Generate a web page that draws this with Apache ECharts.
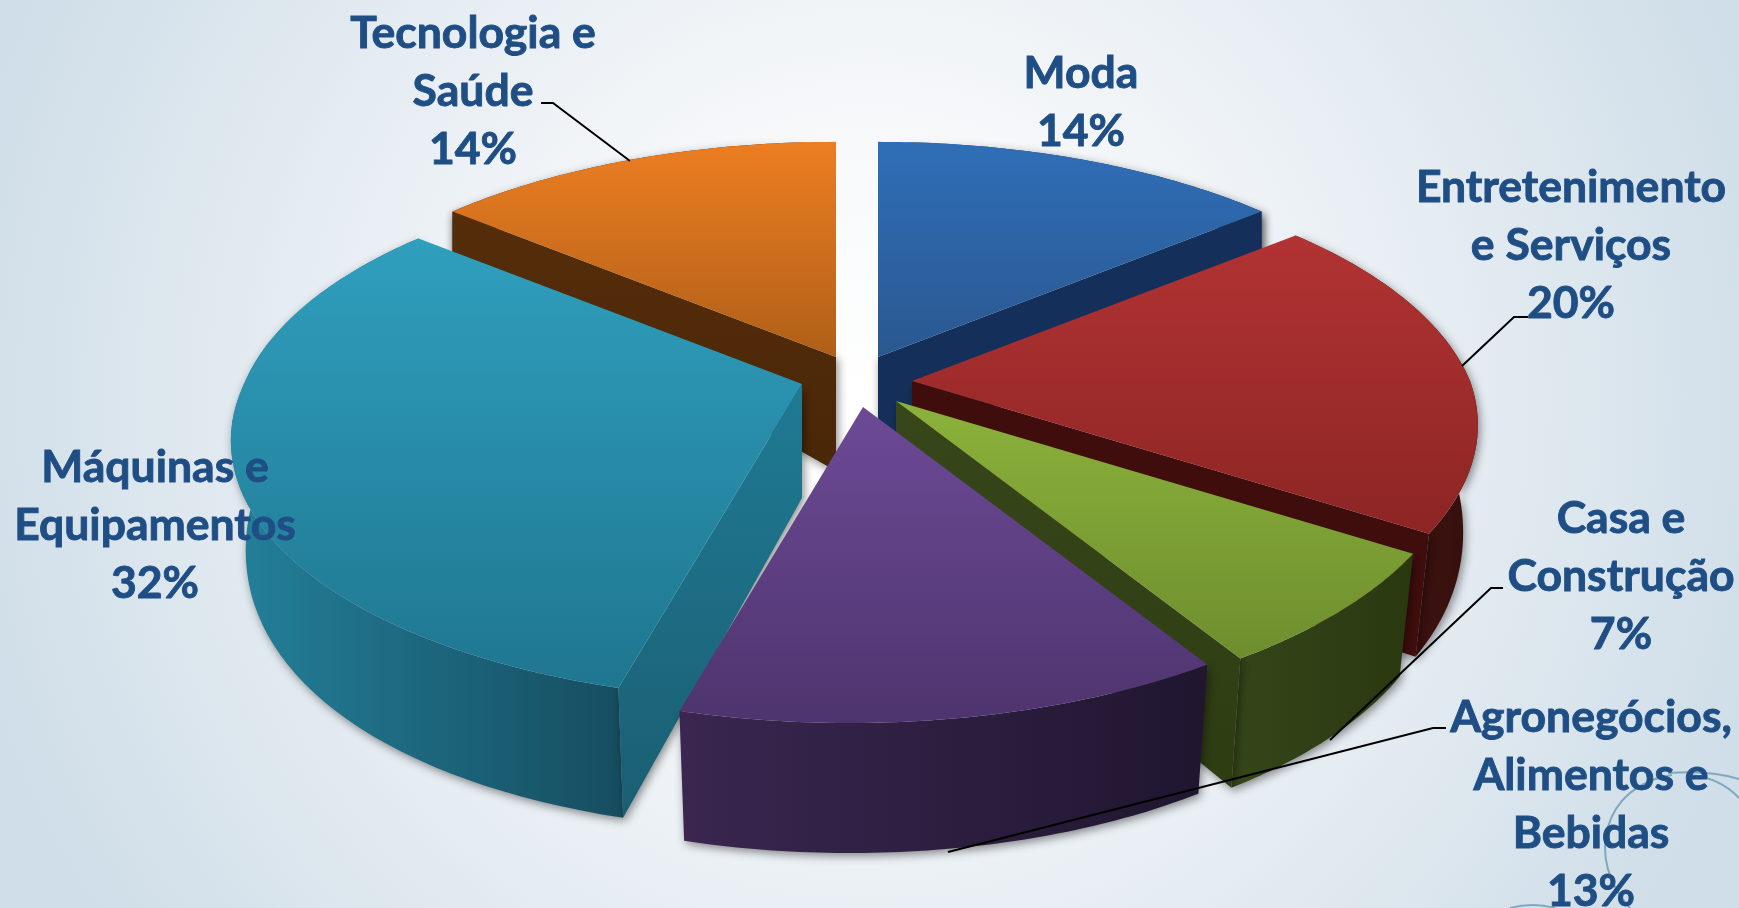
<!DOCTYPE html>
<html>
<head>
<meta charset="utf-8" />
<title>Setores</title>
<script src="https://cdnjs.cloudflare.com/ajax/libs/echarts/6.0.0/echarts.min.js"></script>
<style>html,body{margin:0;height:100%;background:#fff}#main{width:1739px;height:908px}</style>
</head>
<body>
<div id="main"></div>
<script>
// dados
var categorias = ['Moda', 'Entretenimento\ne Serviços', 'Casa e\nConstrução', 'Agronegócios,\nAlimentos e\nBebidas', 'Máquinas e\nEquipamentos', 'Tecnologia e\nSaúde'];
var valores = [14, 20, 7, 13, 32, 14];

// aparência de cada fatia, na mesma ordem
var coresTopo = [['#2f6eb7', '#2a5890'], ['#b23333', '#8c2524'], ['#8cb23b', '#6e8e2e'], ['#6c4a96', '#4e346e'], ['#2f9fbe', '#1f7690'], ['#ec7e22', '#b05f18']];
var coresCorte = [['#14305a', '#14305a'], ['#3f0d0c', '#3f0d0c'], ['#37471a', '#2e3c12'], ['#2a1c3e', '#2a1c3e'], ['#1f7a94', '#1b5e72'], ['#552d0a', '#4a2708']];
var coresLado = [['#1a3a66', '#14305a'], ['#4a1412', '#35100e'], ['#35461a', '#2a3810'], ['#3a2650', '#201630'], ['#23809a', '#164d60'], ['#5a300c', '#4a2708']];
var centros = [[878, 357], [912, 381], [896, 401], [863, 407], [802, 384], [836, 357]];
var ordemDesenho = [0, 5, 1, 4, 2, 3];
var posTextos = [[1081, 102.5], [1571, 245.5], [1621, 576.5], [1591, 804.5], [155, 525.5], [473, 91.5]];
var guias = [
  null,
  [[1528, 317], [1514, 317], [1462, 366]],
  [[1503, 588], [1491, 588], [1330, 740]],
  [[1446, 728], [1433, 728], [948, 852]],
  null,
  [[541, 103], [553, 103], [630, 161]]
];

// projeção do disco em perspectiva
var RX = 558, RY = 256, K = 0.19, ALTURA = 130, DESVIO = 14, ENCOLHE = 0.026;
var total = valores.reduce(function (a, b) { return a + b; }, 0);

function borda(i, ang) {
  var u = Math.sin(ang), v = -Math.cos(ang), w = 1 - K * v;
  return [centros[i][0] + RX * u / w - DESVIO * Math.max(v, 0), centros[i][1] + RY * v / w, v];
}
function embaixo(i, p, v) {
  var h = ALTURA * (1 - 0.25 * (1 - v) * (1 - v));
  var enc = 1 - ENCOLHE * Math.max(0, Math.min(1, (v + 0.6) / 0.6));
  return [centros[i][0] + (p[0] - centros[i][0]) * enc, p[1] + h];
}
function parede(i, ang) {
  var p = borda(i, ang), a = centros[i];
  return [a, [p[0], p[1]], embaixo(i, p, p[2]), embaixo(i, a, 0.3)];
}
// a parede só aparece se a face de cima estiver acima dela na tela
function visivel(i, ang, angMeio) {
  var a = centros[i], p = borda(i, ang), m = borda(i, angMeio);
  if (Math.abs(p[0] - a[0]) < 5) return false;
  return m[1] < a[1] + (p[1] - a[1]) * (m[0] - a[0]) / (p[0] - a[0]);
}
function grad(c, horizontal) {
  return new echarts.graphic.LinearGradient(0, 0, horizontal ? 1 : 0, horizontal ? 0 : 1, [{ offset: 0, color: c[0] }, { offset: 1, color: c[1] }]);
}

function renderFatia(params, api) {
  var i = params.dataIndex;
  var acumulado = 0;
  for (var j = 0; j < i; j++) acumulado += valores[j];
  var ini = acumulado / total * Math.PI * 2;
  var fim = (acumulado + api.value(0)) / total * Math.PI * 2;
  var topo = [centros[i]], arco = [], arcoBaixo = [];
  for (var s = 0; s <= 60; s++) {
    var p = borda(i, ini + (fim - ini) * s / 60);
    topo.push([p[0], p[1]]);
    arco.push([p[0], p[1]]);
    arcoBaixo.unshift(embaixo(i, p, p[2]));
  }
  var z = ordemDesenho.indexOf(i) * 10;
  var sombra = { shadowBlur: 10, shadowColor: 'rgba(0,0,0,0.45)', shadowOffsetX: 2, shadowOffsetY: 3 };
  var filhos = [
    { type: 'polygon', z2: z, shape: { points: arco.concat(arcoBaixo) }, style: Object.assign({ fill: grad(coresLado[i], true) }, sombra) }
  ];
  [ini, fim].forEach(function (ang, n) {
    if (visivel(i, ang, (ini + fim) / 2)) {
      filhos.push({ type: 'polygon', z2: z + 1 + n, shape: { points: parede(i, ang) }, style: Object.assign({ fill: grad(coresCorte[i], false) }, sombra) });
    }
  });
  filhos.push({ type: 'polygon', z2: z + 3, shape: { points: topo }, style: { fill: grad(coresTopo[i], false) } });
  return { type: 'group', children: filhos };
}

var traco = { stroke: '#7fa9bf', lineWidth: 2, fill: null };
var elementos = [
  { type: 'rect', z: -10, shape: { x: 0, y: 0, width: 1739, height: 908 },
    style: { fill: new echarts.graphic.RadialGradient(0.5, 0.44, 1.05, [
      { offset: 0, color: '#ffffff' }, { offset: 0.3, color: '#f6f8fa' }, { offset: 0.62, color: '#e5ecf2' }, { offset: 0.97, color: '#cfdee8' }, { offset: 1, color: '#cfdee8' }
    ]) } },
  // arcos decorativos do canto
  { type: 'bezierCurve', z: 20, shape: { x1: 1672, y1: 775, cpx1: 1602, cpy1: 785, cpx2: 1585, cpy2: 860, x2: 1630, y2: 908 }, style: traco },
  { type: 'bezierCurve', z: 20, shape: { x1: 1668, y1: 773, cpx1: 1695, cpy1: 771, cpx2: 1720, cpy2: 773, x2: 1739, y2: 779 }, style: traco },
  { type: 'bezierCurve', z: 20, shape: { x1: 1690, y1: 775, cpx1: 1710, cpy1: 777, cpx2: 1727, cpy2: 785, x2: 1739, y2: 798 }, style: traco },
  { type: 'bezierCurve', z: 20, shape: { x1: 1510, y1: 908, cpx1: 1525, cpy1: 904, cpx2: 1540, cpy2: 904, x2: 1555, y2: 908 }, style: traco }
];
categorias.forEach(function (nome, i) {
  elementos.push({
    type: 'text', z: 30, x: posTextos[i][0], y: posTextos[i][1],
    style: {
      text: nome + '\n' + valores[i] + '%', fill: '#1f4e85', stroke: '#1f4e85', lineWidth: 0.9,
      align: 'center', verticalAlign: 'middle', font: 'bold 44.5px Lato', lineHeight: 58
    }
  });
  if (guias[i]) {
    elementos.push({ type: 'polyline', z: 25, shape: { points: guias[i] }, style: { stroke: '#000', lineWidth: 2, fill: null } });
  }
});

var chart = echarts.init(document.getElementById('main'));
chart.setOption({
  animation: false,
  graphic: { elements: elementos },
  series: [{
    type: 'custom',
    coordinateSystem: 'none',
    renderItem: renderFatia,
    data: valores,
    z: 5
  }]
});
</script>
</body>
</html>
